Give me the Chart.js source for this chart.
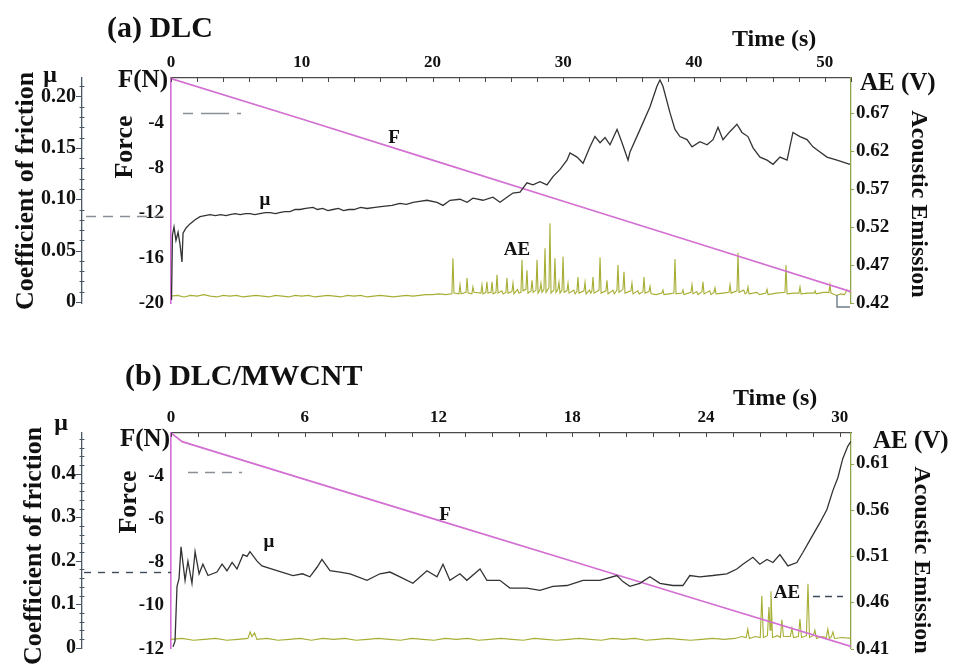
<!DOCTYPE html>
<html>
<head>
<meta charset="utf-8">
<title>Scratch test: friction, force and acoustic emission</title>
<script src="https://cdn.jsdelivr.net/npm/chart.js@4.4.1/dist/chart.umd.min.js"></script>
<style>
  html, body { margin: 0; padding: 0; background: #ffffff; }
  #wrap { position: relative; width: 954px; height: 667px; overflow: hidden; background: #ffffff; }
  canvas { position: absolute; left: 0; }
  #cA { top: 0; }
  #cB { top: 330px; }
</style>
</head>
<body>
<div id="wrap">
  <canvas id="cA" width="954" height="330"></canvas>
  <canvas id="cB" width="954" height="337"></canvas>
</div>
<script>
// ---------- (a) DLC ----------
const timeTicksA  = [0, 10, 20, 30, 40, 50];
const forceTicksA = [0, -4, -8, -12, -16, -20];
const muTicksA    = [0, 0.05, 0.10, 0.15, 0.20];
const aeTicksA    = [0.42, 0.47, 0.52, 0.57, 0.62, 0.67];

// [time s, force N]
const forceA = [[0, -0.05], [10, -3.65], [20, -7.3], [30, -10.95], [40, -14.6], [52, -19.0]];

// [time s, coefficient of friction]
const muA = [
  [0.04,0.002],[0.11,0.065],[0.23,0.073],[0.38,0.060],[0.54,0.068],[0.69,0.056],[0.84,0.039],[0.92,0.067],
  [1.15,0.072],[1.45,0.076],[1.84,0.080],[2.22,0.083],[2.98,0.085],[3.4,0.084],[3.8,0.085],[4.2,0.084],[4.51,0.085],
  [4.9,0.086],[5.3,0.085],[5.7,0.086],[6.04,0.086],[6.4,0.085],[6.8,0.086],[7.2,0.087],[7.57,0.087],[8.0,0.086],
  [8.3,0.087],[8.7,0.088],[9.10,0.088],[9.5,0.090],[9.86,0.090],[10.3,0.091],[10.86,0.092],[11.2,0.090],[11.6,0.091],
  [12.0,0.089],[12.39,0.090],[12.8,0.091],[13.2,0.089],[13.6,0.090],[14.0,0.090],[14.5,0.092],[14.99,0.091],[15.6,0.092],
  [16.21,0.093],[16.9,0.094],[17.51,0.096],[18.0,0.095],[18.51,0.097],[19.0,0.098],[19.58,0.099],
  [20.34,0.097],[20.80,0.094],[21.34,0.099],[22.10,0.100],[22.64,0.097],[23.09,0.101],[23.86,0.099],[24.62,0.102],
  [25.16,0.097],[25.69,0.102],[26.15,0.106],[26.69,0.107],[27.22,0.116],[27.68,0.114],[28.21,0.117],[28.75,0.114],
  [29.21,0.122],[29.75,0.129],[30.28,0.138],[30.51,0.145],[31.05,0.141],[31.51,0.135],[32.04,0.151],[32.42,0.161],
  [32.81,0.155],[33.19,0.160],[33.57,0.153],[34.11,0.168],[34.49,0.155],[34.95,0.138],[35.10,0.146],[35.87,0.168],
  [36.63,0.190],[37.16,0.210],[37.39,0.216],[37.62,0.210],[38.16,0.184],[38.54,0.168],[38.92,0.161],[39.46,0.158],
  [39.84,0.151],[40.45,0.156],[40.99,0.153],[41.45,0.158],[41.83,0.170],[42.21,0.158],[42.75,0.166],[43.28,0.173],
  [43.66,0.165],[44.12,0.161],[44.51,0.150],[45.04,0.141],[45.58,0.138],[46.04,0.134],[46.57,0.141],[47.11,0.138],
  [47.56,0.165],[48.10,0.161],[48.64,0.158],[49.09,0.151],[49.63,0.146],[50.16,0.141],[50.93,0.138],[51.92,0.134]
];

// [time s, acoustic emission V]
const aeA = [
  [0,0.429],[0.5,0.430],[1,0.428],[1.5,0.430],[2,0.429],[2.5,0.431],[3,0.429],[3.5,0.428],[4,0.430],[4.5,0.429],
  [5,0.430],[5.5,0.428],[6,0.429],[6.5,0.430],[7,0.429],[7.5,0.428],[8,0.430],[8.5,0.429],[9,0.428],[9.5,0.430],
  [10,0.429],[10.5,0.430],[11,0.428],[11.5,0.429],[12,0.430],[12.5,0.429],[13,0.428],[13.5,0.430],[14,0.429],[14.5,0.430],
  [15,0.428],[15.5,0.429],[16,0.430],[16.5,0.429],[17,0.428],[17.5,0.429],[18,0.430],[18.5,0.429],[19,0.430],[19.5,0.431],
  [20,0.431],[20.5,0.432],[21,0.431],
  [21.48,0.432],[21.56,0.479],[21.64,0.433],
  [22.02,0.432],[22.10,0.444],[22.18,0.432],
  [22.56,0.434],[22.64,0.453],[22.72,0.433],
  [23.01,0.432],[23.09,0.441],[23.17,0.434],
  [23.70,0.433],[23.78,0.444],[23.86,0.432],
  [24.08,0.434],[24.16,0.448],[24.24,0.433],
  [24.47,0.434],[24.55,0.448],[24.63,0.432],
  [24.85,0.434],[24.93,0.457],[25.01,0.433],
  [25.3,0.436],[25.4,0.432],
  [25.61,0.434],[25.69,0.453],[25.77,0.433],
  [26.07,0.435],[26.15,0.446],[26.23,0.432],
  [26.5,0.438],[26.6,0.433],
  [26.76,0.434],[26.84,0.477],[26.92,0.436],
  [27.14,0.438],[27.22,0.463],[27.30,0.433],
  [27.53,0.436],[27.61,0.450],[27.69,0.434],
  [27.91,0.437],[27.99,0.477],[28.07,0.433],
  [28.21,0.437],[28.29,0.446],[28.37,0.434],
  [28.52,0.438],[28.60,0.492],[28.68,0.434],
  [28.90,0.440],[28.98,0.525],[29.06,0.433],
  [29.28,0.437],[29.36,0.479],[29.44,0.434],
  [29.59,0.438],[29.67,0.447],[29.75,0.433],
  [29.90,0.437],[29.98,0.481],[30.06,0.434],
  [30.28,0.436],[30.36,0.446],[30.44,0.433],
  [30.8,0.437],[30.9,0.432],
  [31.04,0.435],[31.12,0.454],[31.20,0.433],
  [31.58,0.436],[31.66,0.447],[31.74,0.432],
  [32.0,0.437],[32.1,0.433],
  [32.19,0.436],[32.27,0.454],[32.35,0.433],
  [32.73,0.437],[32.81,0.480],[32.89,0.433],
  [33.26,0.436],[33.34,0.450],[33.42,0.432],
  [33.8,0.437],[33.9,0.432],
  [34.10,0.437],[34.18,0.470],[34.26,0.434],
  [34.56,0.438],[34.64,0.461],[34.72,0.433],
  [35.17,0.436],[35.25,0.446],[35.33,0.432],
  [35.7,0.436],[35.8,0.432],
  [36.09,0.435],[36.17,0.454],[36.25,0.433],
  [36.55,0.435],[36.63,0.442],[36.71,0.432],
  [37.1,0.431],
  [37.54,0.433],[37.62,0.437],[37.70,0.431],
  [38.1,0.432],
  [38.46,0.433],[38.54,0.478],[38.62,0.432],
  [39.07,0.433],[39.15,0.437],[39.23,0.431],
  [39.76,0.434],[39.84,0.444],[39.92,0.432],
  [40.2,0.435],[40.3,0.431],
  [40.60,0.435],[40.68,0.448],[40.76,0.432],
  [41.2,0.436],[41.3,0.431],
  [41.52,0.434],[41.60,0.440],[41.68,0.432],
  [42.2,0.433],
  [42.67,0.434],[42.75,0.444],[42.83,0.433],
  [43.28,0.436],[43.36,0.486],[43.44,0.434],
  [43.8,0.437],[43.9,0.432],
  [44.04,0.434],[44.12,0.441],[44.20,0.432],
  [44.8,0.434],[45.0,0.431],
  [45.50,0.433],[45.58,0.438],[45.66,0.431],
  [46.3,0.433],
  [46.95,0.434],[47.03,0.470],[47.11,0.432],
  [47.6,0.433],
  [48.02,0.433],[48.10,0.441],[48.18,0.432],
  [48.7,0.433],
  [49.17,0.433],[49.25,0.436],[49.33,0.432],
  [49.9,0.434],
  [50.31,0.434],[50.39,0.444],[50.47,0.433],
  [50.9,0.430],[51.2,0.432],[51.5,0.431],[51.7,0.437],[52,0.433]
];

// ---------- (b) DLC/MWCNT ----------
const timeTicksB  = [0, 6, 12, 18, 24, 30];
const forceTicksB = [-2, -4, -6, -8, -10, -12];
const muTicksB    = [0, 0.1, 0.2, 0.3, 0.4];
const aeTicksB    = [0.41, 0.46, 0.51, 0.56, 0.61];

const forceB = [[0, -2.0], [0.5, -2.4], [6, -4.15], [12, -6.05], [18, -7.95], [24, -9.85], [30.5, -11.9]];

const muB = [
  [0.09,0.002],[0.18,0.015],[0.27,0.141],[0.36,0.159],[0.45,0.232],[0.63,0.155],[0.76,0.199],[0.94,0.148],
  [1.08,0.221],[1.26,0.170],[1.43,0.192],[1.66,0.166],[2.06,0.174],[2.29,0.192],[2.51,0.177],[2.74,0.196],
  [2.96,0.181],[3.23,0.214],[3.41,0.210],[3.54,0.221],[3.86,0.199],[4.08,0.188],[4.75,0.177],[5.47,0.166],
  [5.9,0.170],[6.23,0.163],[6.55,0.185],[6.77,0.203],[7.13,0.177],[7.58,0.174],[8.03,0.170],[8.79,0.155],
  [9.37,0.170],[9.82,0.174],[10.27,0.163],[10.85,0.148],[11.48,0.177],[11.93,0.163],[12.20,0.192],[12.51,0.155],
  [12.96,0.170],[13.27,0.155],[13.86,0.181],[14.17,0.155],[14.75,0.155],[15.20,0.137],[15.96,0.137],[16.55,0.132],
  [17.13,0.141],[17.76,0.143],[18.48,0.155],[19.24,0.155],[20.0,0.166],[20.27,0.152],[20.58,0.141],[21.03,0.148],
  [21.48,0.163],[21.93,0.148],[22.51,0.143],[22.96,0.143],[23.27,0.166],[23.72,0.163],[24.30,0.166],[24.93,0.170],
  [25.38,0.181],[25.65,0.192],[26.10,0.208],[26.41,0.192],[26.73,0.203],[27.0,0.196],[27.31,0.214],[27.67,0.188],
  [28.07,0.196],[28.34,0.219],[28.65,0.247],[29.10,0.287],[29.42,0.318],[29.69,0.362],[29.91,0.391],[30.13,0.435],
  [30.36,0.464],[30.5,0.475]
];

const aeB = [
  [0,0.420],[0.5,0.421],[1,0.419],[1.5,0.420],[2,0.421],[2.5,0.419],[3,0.420],[3.45,0.421],[3.55,0.428],[3.63,0.423],
  [3.75,0.427],[3.85,0.420],[4.3,0.421],[4.8,0.419],[5.3,0.420],[5.8,0.421],[6.3,0.419],[6.8,0.421],[7.3,0.420],[7.8,0.421],
  [8.3,0.419],[8.8,0.420],[9.3,0.421],[9.8,0.420],[10.3,0.419],[10.8,0.421],[11.3,0.420],[11.8,0.419],[12.3,0.421],[12.8,0.420],
  [13.3,0.421],[13.8,0.419],[14.3,0.420],[14.8,0.421],[15.3,0.420],[15.8,0.419],[16.3,0.421],[16.8,0.420],[17.3,0.419],[17.8,0.420],
  [18.3,0.421],[18.8,0.420],[19.3,0.419],[19.8,0.421],[20.3,0.420],[20.8,0.421],[21.3,0.419],[21.8,0.420],[22.3,0.421],[22.8,0.420],
  [23.3,0.419],[23.8,0.420],[24.3,0.421],[24.8,0.420],[25.3,0.421],[25.6,0.423],
  [25.80,0.422],[25.87,0.431],[25.94,0.421],
  [26.2,0.423],
  [26.43,0.422],[26.50,0.467],[26.57,0.422],
  [26.75,0.424],[26.82,0.455],[26.87,0.430],[26.91,0.472],[26.98,0.422],
  [27.2,0.424],
  [27.33,0.422],[27.40,0.441],[27.47,0.423],
  [27.78,0.423],[27.85,0.432],[27.92,0.422],
  [28.14,0.423],[28.21,0.442],[28.28,0.422],
  [28.50,0.424],[28.57,0.480],[28.64,0.422],
  [28.81,0.424],[28.88,0.430],[28.95,0.421],
  [29.2,0.423],
  [29.39,0.422],[29.46,0.431],[29.53,0.421],
  [29.62,0.423],[29.69,0.428],[29.76,0.421],
  [30.1,0.422],[30.5,0.421]
];

// ---------- drawing ----------
const SERIF = '"Liberation Serif", "Times New Roman", serif';
const INK = '#111111';
const MU_COLOR = '#333333';
const F_COLOR = '#d36fd3';
const AE_COLOR = '#a6ae34';
const AE_AXIS = '#8ea64e';
const MU_AXIS = '#4a5866';
const TIME_AXIS = '#4a4a4a';

function bold(size) { return { family: SERIF, size: size, weight: 'bold' }; }
function xy(pairs) { return pairs.map(p => ({ x: p[0], y: p[1] })); }
function fixedTicks(values) { return scale => { scale.ticks = values.map(v => ({ value: v })); }; }

// axis decorations, annotations and indicator lines
function decor(cfg) {
  return {
    id: 'decor' + cfg.id,
    afterDraw(chart) {
      const ctx = chart.ctx, sc = chart.scales, area = chart.chartArea;
      ctx.save();
      ctx.lineCap = 'butt';

      // time ticks pointing into the plot
      ctx.strokeStyle = TIME_AXIS; ctx.lineWidth = 1;
      const nT = Math.round(cfg.tMax / cfg.tMinor);
      for (let i = 0; i <= nT; i++) {
        const x = Math.round(sc.x.getPixelForValue(i * cfg.tMinor)) + 0.5;
        if (x > area.right + 1) break;
        ctx.beginPath(); ctx.moveTo(x, area.top); ctx.lineTo(x, area.top + 4); ctx.stroke();
      }

      // ruler ticks on the friction axis
      ctx.strokeStyle = MU_AXIS;
      const mu = sc.mu, xr = mu.right;
      const nM = Math.floor(cfg.muMax / cfg.muMinor + 1e-6);
      for (let i = 0; i <= nM; i++) {
        const y = Math.round(mu.getPixelForValue(i * cfg.muMinor)) + 0.5;
        const major = i % cfg.muPer === 0;
        ctx.beginPath();
        ctx.moveTo(xr - (major ? 6 : 2.5), y);
        ctx.lineTo(xr + (major ? 0 : 2.5), y);
        ctx.stroke();
      }

      // small ticks on the acoustic emission axis
      ctx.strokeStyle = AE_AXIS;
      for (const v of cfg.aeTicks) {
        const y = Math.round(sc.ae.getPixelForValue(v)) + 0.5;
        ctx.beginPath(); ctx.moveTo(sc.ae.left, y); ctx.lineTo(sc.ae.left + 3, y); ctx.stroke();
      }

      // dashed indicator lines pointing each curve to its axis
      for (const d of cfg.dashes) {
        const y = Math.round(sc[d.axis].getPixelForValue(d.value)) + 0.5;
        ctx.strokeStyle = d.color; ctx.lineWidth = d.width; ctx.setLineDash(d.dash);
        ctx.beginPath(); ctx.moveTo(d.x0, y); ctx.lineTo(d.x1, y); ctx.stroke();
      }
      ctx.setLineDash([]);
      for (const p of cfg.paths) {
        ctx.strokeStyle = p.color; ctx.lineWidth = p.width;
        ctx.beginPath();
        p.points.forEach((pt, i) => i ? ctx.lineTo(pt[0], pt[1]) : ctx.moveTo(pt[0], pt[1]));
        ctx.stroke();
      }

      // labels
      for (const t of cfg.texts) {
        ctx.save();
        ctx.font = 'bold ' + t.size + 'px ' + SERIF;
        ctx.fillStyle = INK;
        ctx.textAlign = t.align || 'center';
        ctx.textBaseline = t.base || 'middle';
        ctx.translate(t.x, t.y);
        if (t.rot) ctx.rotate(t.rot * Math.PI / 180);
        ctx.fillText(t.text, 0, 0);
        ctx.restore();
      }
      ctx.restore();
    }
  };
}

function buildPanel(canvasId, cfg) {
  return new Chart(document.getElementById(canvasId), {
    type: 'line',
    data: {
      datasets: [
        { label: 'μ', data: xy(cfg.mu), yAxisID: 'mu', order: 0,
          borderColor: MU_COLOR, borderWidth: 1.3, pointRadius: 0, tension: 0, fill: false },
        { label: 'F', data: xy(cfg.force), yAxisID: 'force', order: 1,
          borderColor: F_COLOR, borderWidth: 1.7, pointRadius: 0, tension: 0, fill: false },
        { label: 'AE', data: xy(cfg.ae), yAxisID: 'ae', order: 2,
          borderColor: AE_COLOR, borderWidth: 1.1, pointRadius: 0, tension: 0, fill: false }
      ]
    },
    options: {
      responsive: false,
      maintainAspectRatio: false,
      animation: false,
      devicePixelRatio: 1,
      layout: { padding: { top: 0, bottom: cfg.padBottom, left: 0, right: 0 } },
      plugins: { legend: { display: false }, tooltip: { enabled: false } },
      scales: {
        x: {
          type: 'linear', position: 'top', min: 0, max: cfg.tMax,
          afterBuildTicks: fixedTicks(cfg.timeTicks),
          afterFit: s => { s.height = cfg.top; },
          grid: { display: false, drawTicks: false },
          border: { display: true, color: TIME_AXIS, width: 1.3 },
          ticks: { padding: 5, font: bold(17), color: INK, maxRotation: 0, autoSkip: false,
                   callback: v => String(v) }
        },
        force: {
          type: 'linear', position: 'left', weight: 0, min: cfg.fMin, max: cfg.fMax,
          afterBuildTicks: fixedTicks(cfg.forceTicks),
          afterFit: s => { s.width = 89; },
          grid: { display: false, drawTicks: false },
          border: { display: true, color: F_COLOR, width: 1.6 },
          ticks: { padding: 7, font: bold(19), color: INK, autoSkip: false,
                   callback: v => (v === cfg.fMax ? '' : String(v)) }
        },
        mu: {
          type: 'linear', position: 'left', weight: 1, min: cfg.muMin, max: cfg.muMax,
          afterBuildTicks: fixedTicks(cfg.muTicks),
          afterFit: s => { s.width = 82; },
          grid: { display: false, drawTicks: false },
          border: { display: true, color: MU_AXIS, width: 1.3 },
          ticks: { padding: 6, font: bold(20), color: INK, autoSkip: false,
                   callback: v => (v === 0 ? '0' : v.toFixed(cfg.muDigits)) }
        },
        ae: {
          type: 'linear', position: 'right', min: cfg.aeMin, max: cfg.aeMax,
          afterBuildTicks: fixedTicks(cfg.aeTicks),
          afterFit: s => { s.width = 103; },
          grid: { display: false, drawTicks: false },
          border: { display: true, color: AE_AXIS, width: 1.3 },
          ticks: { padding: 5, font: bold(19), color: INK, autoSkip: false,
                   callback: v => v.toFixed(2) }
        }
      }
    },
    plugins: [decor(cfg)]
  });
}

buildPanel('cA', {
  id: 'A', top: 78, padBottom: 27,
  tMax: 52, tMinor: 2, timeTicks: timeTicksA,
  fMin: -20, fMax: 0, forceTicks: forceTicksA,
  muMin: -0.001, muMax: 0.218, muMinor: 0.01, muPer: 5, muDigits: 2, muTicks: muTicksA,
  aeMin: 0.42, aeMax: 0.716, aeTicks: aeTicksA,
  mu: muA, force: forceA, ae: aeA,
  dashes: [
    { axis: 'mu', value: 0.084, x0: 86, x1: 170, color: '#8a8f96', width: 1.6, dash: [10, 7] },
    { axis: 'force', value: -3.1, x0: 183, x1: 241, color: '#8a8f96', width: 1.6, dash: [10, 8, 28, 8] }
  ],
  paths: [
    { points: [[837, 295], [837, 307], [850, 307]], color: '#6e7c8a', width: 1.4 }
  ],
  texts: [
    { text: '(a) DLC', x: 107, y: 37, size: 30, align: 'left', base: 'alphabetic' },
    { text: 'Time (s)', x: 732, y: 46, size: 24, align: 'left', base: 'alphabetic' },
    { text: 'AE (V)', x: 860, y: 90, size: 25, align: 'left', base: 'alphabetic' },
    { text: 'Acoustic Emission', x: 918, y: 204, size: 24, rot: 90 },
    { text: 'Coefficient of friction', x: 26, y: 191, size: 26, rot: -90 },
    { text: 'μ', x: 50, y: 76, size: 24 },
    { text: 'Force', x: 125, y: 147, size: 26, rot: -90 },
    { text: 'F(N)', x: 168, y: 81, size: 25, align: 'right' },
    { text: 'F', x: 394, y: 138, size: 19 },
    { text: 'μ', x: 265, y: 200, size: 19 },
    { text: 'AE', x: 517, y: 250, size: 19 }
  ]
});

buildPanel('cB', {
  id: 'B', top: 103, padBottom: 9,
  tMax: 30.5, tMinor: 1.2, timeTicks: timeTicksB,
  fMin: -12, fMax: -2, forceTicks: forceTicksB,
  muMin: -0.0022, muMax: 0.494, muMinor: 0.02, muPer: 5, muDigits: 1, muTicks: muTicksB,
  aeMin: 0.41, aeMax: 0.643, aeTicks: aeTicksB,
  mu: muB, force: forceB, ae: aeB,
  dashes: [
    { axis: 'mu', value: 0.174, x0: 84, x1: 171, color: '#3c4a5a', width: 1.4, dash: [7, 7] },
    { axis: 'force', value: -3.82, x0: 188, x1: 242, color: '#8a8f96', width: 1.6, dash: [10, 7] },
    { axis: 'ae', value: 0.467, x0: 813, x1: 843, color: '#3c4a5a', width: 1.4, dash: [7, 5] }
  ],
  paths: [],
  texts: [
    { text: '(b) DLC/MWCNT', x: 125, y: 55, size: 30, align: 'left', base: 'alphabetic' },
    { text: 'Time (s)', x: 733, y: 75, size: 24, align: 'left', base: 'alphabetic' },
    { text: 'AE (V)', x: 873, y: 118, size: 25, align: 'left', base: 'alphabetic' },
    { text: 'Acoustic Emission', x: 921, y: 230, size: 24, rot: 90 },
    { text: 'Coefficient of friction', x: 34, y: 216, size: 26, rot: -90 },
    { text: 'μ', x: 61, y: 94, size: 24 },
    { text: 'Force', x: 129, y: 172, size: 26, rot: -90 },
    { text: 'F(N)', x: 170, y: 110, size: 25, align: 'right' },
    { text: 'F', x: 445, y: 185, size: 19 },
    { text: 'μ', x: 269, y: 212, size: 19 },
    { text: 'AE', x: 787, y: 263, size: 19 }
  ]
});
</script>
</body>
</html>
